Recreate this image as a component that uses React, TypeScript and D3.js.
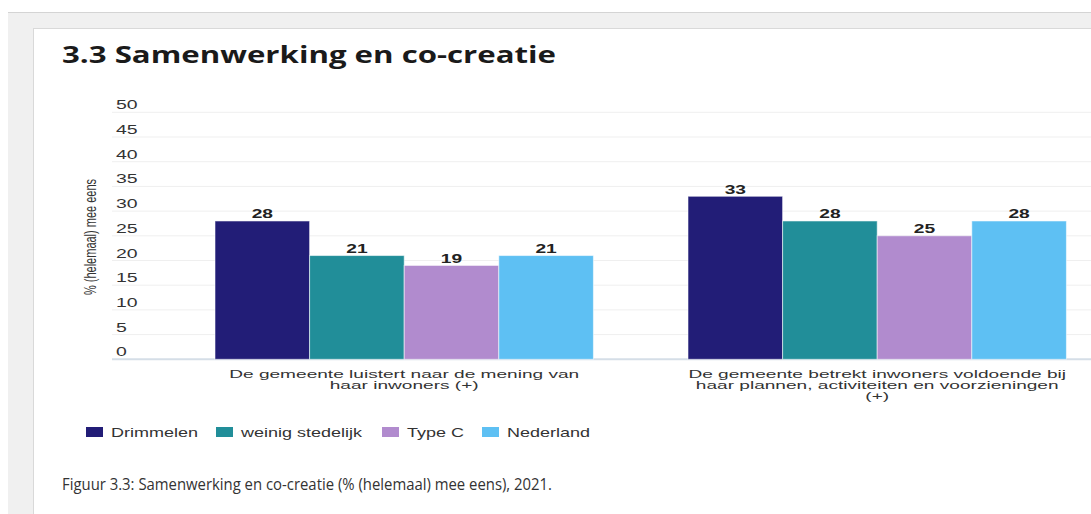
import React from "react";
import * as d3 from "d3";

// ---- data ----
const categories = ["luistert", "betrekt"];
const categoryLabelLines = [
  ["De gemeente luistert naar de mening van", "haar inwoners (+)"],
  ["De gemeente betrekt inwoners voldoende bij", "haar plannen, activiteiten en voorzieningen", "(+)"],
];
const seriesNames = ["Drimmelen", "weinig stedelijk", "Type C", "Nederland"];
const drimmelen = [28, 33];
const weinigStedelijk = [21, 28];
const typeC = [19, 25];
const nederland = [21, 28];
const seriesValues = [drimmelen, weinigStedelijk, typeC, nederland];
const seriesColors = ["#221d77", "#218e99", "#b18bce", "#5ec0f3"];
const yTicks = [0, 5, 10, 15, 20, 25, 30, 35, 40, 45, 50];
const titleText = "3.3 Samenwerking en co-creatie";
const captionText = "Figuur 3.3: Samenwerking en co-creatie (% (helemaal) mee eens), 2021.";
const yAxisTitle = "% (helemaal) mee eens";

// ---- layout ----
const W = 1091;
const H = 514;
const plotLeft = 112;
const legendX = [86, 216, 382, 482];
const ARIAL = "'Liberation Sans', Arial, sans-serif";
const SEGOE = "'Open Sans', 'Noto Sans', sans-serif";

export default function App() {
  const x = d3
    .scaleBand<string>()
    .domain(categories)
    .range([167.7, 1113.7])
    .paddingInner(0.2)
    .paddingOuter(0.1);
  const xi = d3
    .scaleBand<string>()
    .domain(seriesNames)
    .range([0, x.bandwidth()])
    .padding(0);
  const y = d3.scaleLinear().domain([0, 50]).range([359.3, 112.3]);

  return (
    <div style={{ position: "absolute", left: 0, top: 0, width: W, height: H, overflow: "hidden" }}>
      <svg width={W} height={H} style={{ display: "block" }}>
        {/* page chrome */}
        <rect x={0} y={0} width={W} height={H} fill="#ffffff" />
        <rect x={8} y={12} width={W - 8} height={H - 12} fill="#f0f0f0" />
        <line x1={8} x2={W} y1={12.5} y2={12.5} stroke="#d4d4d4" strokeWidth={1} />
        <rect x={34} y={28} width={W} height={H} fill="#ffffff" />
        <line x1={33.5} x2={33.5} y1={28} y2={H} stroke="#d9d9d9" strokeWidth={1} />
        <line x1={33.5} x2={W} y1={28.5} y2={28.5} stroke="#d9d9d9" strokeWidth={1} />

        {/* title */}
        <text
          x={62}
          y={63}
          fontFamily={SEGOE}
          fontWeight={700}
          fontSize={23}
          fill="#1a1a1a"
          textLength={494}
          lengthAdjust="spacingAndGlyphs"
        >
          {titleText}
        </text>

        {/* gridlines */}
        {yTicks.map((t) => (
          <line
            key={"g" + t}
            x1={plotLeft}
            x2={W}
            y1={y(t)}
            y2={y(t)}
            stroke={t === 0 ? "#d5dee7" : "#efefef"}
            strokeWidth={t === 0 ? 2 : 1}
          />
        ))}
        {/* tick labels */}
        {yTicks.map((t) => (
          <text
            key={"t" + t}
            transform={`translate(116,${y(t) - 3}) scale(1.62,1)`}
            fontFamily={ARIAL}
            fontSize={12}
            fill="#333"
          >
            {t}
          </text>
        ))}

        {/* y axis title */}
        <text
          transform="translate(91,237) scale(1.45,1) rotate(-90)"
          textAnchor="middle"
          dominantBaseline="central"
          fontFamily={ARIAL}
          fontSize={11}
          fill="#333"
        >
          {yAxisTitle}
        </text>

        {/* bars */}
        {categories.map((c, ci) => (
          <g key={c} transform={`translate(${x(c)},0)`}>
            {seriesNames.map((s, si) => {
              const v = seriesValues[si][ci];
              const bx = xi(s) as number;
              return (
                <g key={s}>
                  <rect
                    x={bx}
                    y={y(v)}
                    width={xi.bandwidth()}
                    height={y(0) - y(v)}
                    fill={seriesColors[si]}
                    stroke="rgba(255,255,255,0.55)"
                    strokeWidth={1}
                  />
                  <text
                    transform={`translate(${bx + xi.bandwidth() / 2},${y(v) - 2.5}) scale(1.6,1)`}
                    textAnchor="middle"
                    fontFamily={ARIAL}
                    fontWeight={700}
                    fontSize={12}
                    fill="#222"
                  >
                    {v}
                  </text>
                </g>
              );
            })}
          </g>
        ))}

        {/* category labels */}
        {categories.map((c, ci) => (
          <g key={"l" + c}>
            {categoryLabelLines[ci].map((line, li) => (
              <text
                key={li}
                transform={`translate(${(x(c) as number) + x.bandwidth() / 2},${377.5 + li * 11}) scale(1.66,1)`}
                textAnchor="middle"
                fontFamily={ARIAL}
                fontSize={11.5}
                fill="#333"
              >
                {line}
              </text>
            ))}
          </g>
        ))}

        {/* legend */}
        {seriesNames.map((s, si) => (
          <g key={"lg" + s}>
            <rect x={legendX[si]} y={427} width={17} height={10} fill={seriesColors[si]} />
            <text
              transform={`translate(${legendX[si] + 25},436.5) scale(1.5,1)`}
              fontFamily={ARIAL}
              fontSize={12}
              fill="#333"
            >
              {s}
            </text>
          </g>
        ))}

        {/* caption */}
        <text
          transform="translate(62,490) scale(1,1.2)"
          fontFamily={SEGOE}
          fontSize={13}
          fill="#333"
          textLength={490}
          lengthAdjust="spacingAndGlyphs"
        >
          {captionText}
        </text>
      </svg>
    </div>
  );
}
